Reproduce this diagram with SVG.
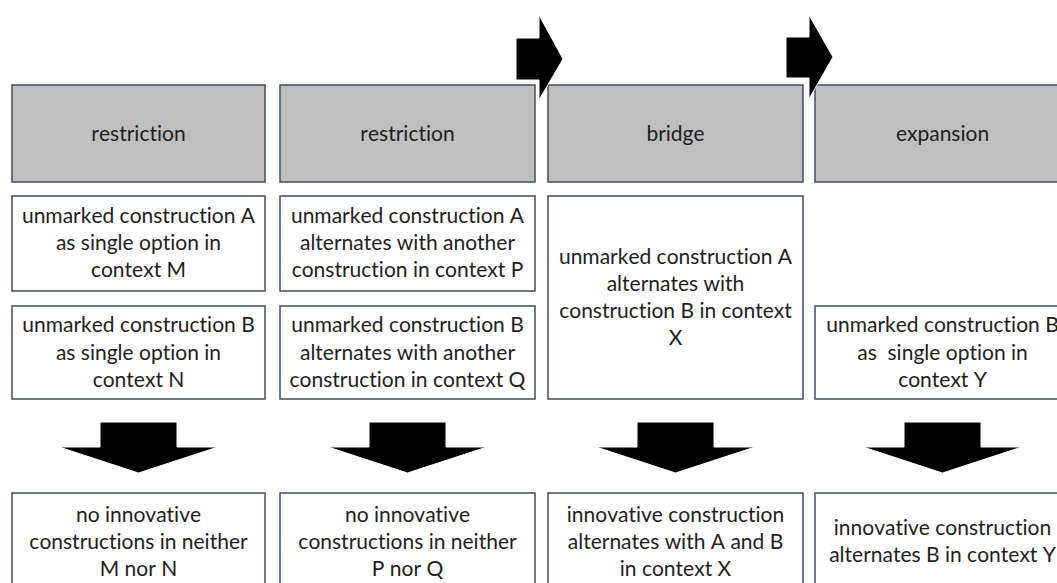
<svg xmlns="http://www.w3.org/2000/svg" width="1057" height="583" viewBox="0 0 1057 583">
<style>
.box{fill:#ffffff;stroke:#3f4d63;stroke-width:1.5}
.hdr{fill:#bfbfbf;stroke:#3f4d63;stroke-width:1.5}
.t{font-family:Lato,"Liberation Sans",sans-serif;font-size:21px;fill:#1e1e1e;text-anchor:middle;font-variant-ligatures:none;font-feature-settings:"liga" 0,"clig" 0,"calt" 0,"dlig" 0,"kern" 0;font-kerning:none;white-space:pre}
.arr{fill:#000000;stroke:#ffffff;stroke-width:1}
</style>
<rect width="1057" height="583" fill="#ffffff"/>
<g id="col1">
  <g id="h1"><rect class="hdr" x="12" y="85" width="253" height="97"/><text class="t" x="138.5" y="141">restriction</text></g>
  <g id="a1"><rect class="box" x="12" y="196" width="253" height="95"/>
    <text class="t" x="138.5" y="223">unmarked construction A</text>
    <text class="t" x="138.5" y="250">as single option in</text>
    <text class="t" x="138.5" y="277">context M</text></g>
  <g id="b1"><rect class="box" x="12" y="306" width="253" height="93"/>
    <text class="t" x="138.5" y="332">unmarked construction B</text>
    <text class="t" x="138.5" y="360">as single option in</text>
    <text class="t" x="138.5" y="387">context N</text></g>
  <g id="r1"><rect class="box" x="12" y="493" width="253" height="100"/>
    <text class="t" x="138.5" y="522">no innovative</text>
    <text class="t" x="138.5" y="549">constructions in neither</text>
    <text class="t" x="138.5" y="576">M nor N</text></g>
</g>
<g id="col2">
  <g id="h2"><rect class="hdr" x="280" y="85" width="255" height="97"/><text class="t" x="407.5" y="141">restriction</text></g>
  <g id="a2"><rect class="box" x="280" y="196" width="255" height="95"/>
    <text class="t" x="407.5" y="223">unmarked construction A</text>
    <text class="t" x="407.5" y="250">alternates with another</text>
    <text class="t" x="407.5" y="277">construction in context P</text></g>
  <g id="b2"><rect class="box" x="280" y="306" width="255" height="93"/>
    <text class="t" x="407.5" y="332">unmarked construction B</text>
    <text class="t" x="407.5" y="360">alternates with another</text>
    <text class="t" x="407.5" y="387">construction in context Q</text></g>
  <g id="r2"><rect class="box" x="280" y="493" width="255" height="100"/>
    <text class="t" x="407.5" y="522">no innovative</text>
    <text class="t" x="407.5" y="549">constructions in neither</text>
    <text class="t" x="407.5" y="576">P nor Q</text></g>
</g>
<g id="col3">
  <g id="h3"><rect class="hdr" x="548" y="85" width="255" height="97"/><text class="t" x="675.5" y="141">bridge</text></g>
  <g id="ab3"><rect class="box" x="548" y="196" width="255" height="203"/>
    <text class="t" x="675.5" y="264">unmarked construction A</text>
    <text class="t" x="675.5" y="291">alternates with</text>
    <text class="t" x="675.5" y="318">construction B in context</text>
    <text class="t" x="675.5" y="345">X</text></g>
  <g id="r3"><rect class="box" x="548" y="493" width="255" height="100"/>
    <text class="t" x="675.5" y="522">innovative construction</text>
    <text class="t" x="675.5" y="549">alternates with A and B</text>
    <text class="t" x="675.5" y="576">in context X</text></g>
</g>
<g id="col4">
  <g id="h4"><rect class="hdr" x="815" y="85" width="255" height="97"/><text class="t" x="942.5" y="141">expansion</text></g>
  <g id="b4"><rect class="box" x="815" y="306" width="255" height="93"/>
    <text class="t" x="942.5" y="332">unmarked construction B</text>
    <text class="t" x="942.5" y="360">as  single option in</text>
    <text class="t" x="942.5" y="387">context Y</text></g>
  <g id="r4"><rect class="box" x="815" y="493" width="255" height="100"/>
    <text class="t" x="942.5" y="535">innovative construction</text>
    <text class="t" x="942.5" y="562">alternates B in context Y</text></g>
</g>
<g id="connectors">
  <polygon class="arr" points="516,38 539,38 539,15 563,59 539,100 539,80 516,80"/>
  <polygon class="arr" points="786,37 809,37 809,15 833,57 809,99 809,78 786,78"/>
  <polygon class="arr" points="100,422 177,422 177,447 218,447 138.5,473 59,447 100,447"/>
  <polygon class="arr" points="369,422 446,422 446,447 487,447 407.5,473 328,447 369,447"/>
  <polygon class="arr" points="637,422 714,422 714,447 755,447 675.5,473 596,447 637,447"/>
  <polygon class="arr" points="904,422 981,422 981,447 1022,447 942.5,473 863,447 904,447"/>
</g>
</svg>
